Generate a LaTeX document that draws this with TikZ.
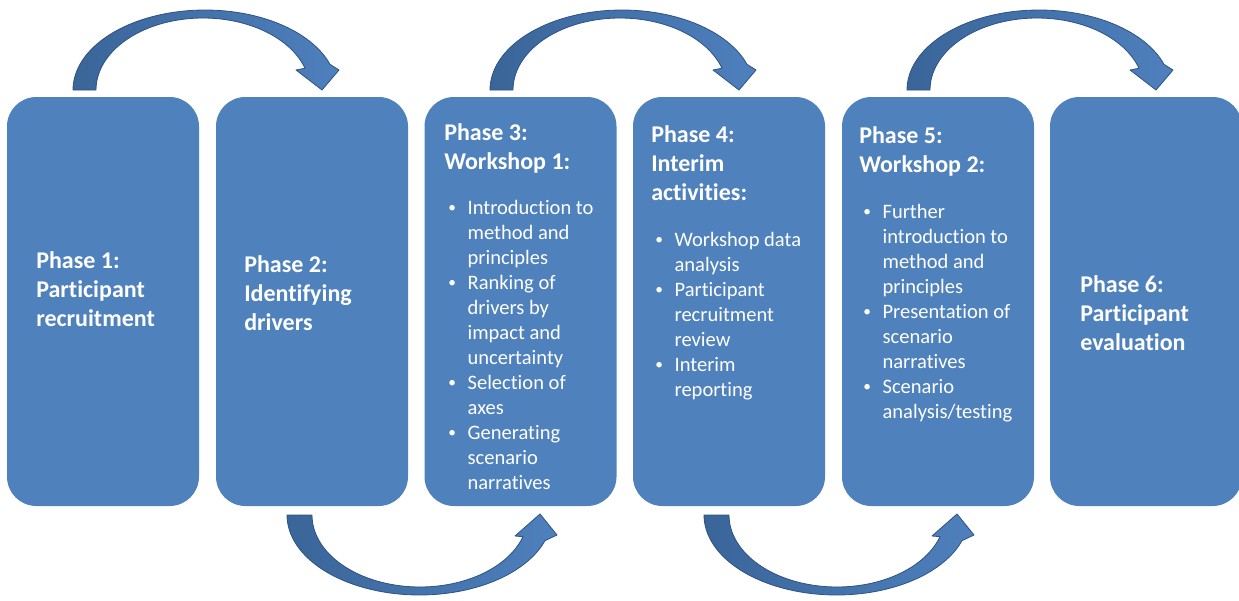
\documentclass[tikz,border=0pt]{standalone}
\usepackage{fontspec}
\setmainfont{Carlito}[Ligatures=NoCommon]
\definecolor{boxblue}{HTML}{4F81BD}
\definecolor{arrdark}{HTML}{3A6599}
\definecolor{arrlight}{HTML}{4E80BD}
\definecolor{arredge}{HTML}{2E5282}
\newcommand\TopArrowShape{%
  \path[arrowshape] plot[domain=180:18.7,samples=60,variable=\t] ({205+132*cos(\t)},{90-80*sin(\t)})
    -- (339,70) -- (322,90) -- (296,70)
    -- plot[domain=17.6:180,samples=60,variable=\t] ({203+107*cos(\t)},{90-72*sin(\t)}) -- cycle;}
\newcommand\BottomArrowShape{%
  \path[arrowshape] plot[domain=180:341.3,samples=60,variable=\t] ({419.5+132.5*cos(\t)},{515-80*sin(\t)})
    -- (557,535) -- (540,514) -- (515,536)
    -- plot[domain=342.5:180,samples=60,variable=\t] ({420+108*cos(\t)},{515-72*sin(\t)}) -- cycle;}
\newcommand\SmallBullet{\raisebox{0.05em}{\scalebox{0.75}{\textbullet}}}
\begin{document}
\begin{tikzpicture}[x=0.75pt,y=-0.75pt,
  box/.style={fill=boxblue, rounded corners=22pt, minimum width=144pt, minimum height=306.75pt, inner sep=0pt, draw=none},
  headtxt/.style={anchor=base west, inner sep=0pt, text=white, font=\fontsize{18pt}{21.75pt}\selectfont\bfseries},
  bodytxt/.style={anchor=base west, inner sep=0pt, text=white, font=\fontsize{15.4pt}{18.75pt}\selectfont},
  arrowshape/.style={left color=arrdark, right color=arrlight, draw=arredge, line width=0.6pt, line join=round}]
\useasboundingbox (0,0) rectangle (1239,600);
\clip (0,0) rectangle (1239,600);
% boxes
\node[box] (p1) at (103,301.5) {};
\node[box] (p2) at (312,301.5) {};
\node[box] (p3) at (520.5,301.5) {};
\node[box] (p4) at (729,301.5) {};
\node[box] (p5) at (938,301.5) {};
\node[box] (p6) at (1146,301.5) {};
% curved arrows
\TopArrowShape
\begin{scope}[shift={(417,0)}]\TopArrowShape\end{scope}
\begin{scope}[shift={(834,0)}]\TopArrowShape\end{scope}
\BottomArrowShape
\begin{scope}[shift={(417,0)}]\BottomArrowShape\end{scope}
% headings
\node[headtxt] (h1) at (36,268) {\begin{tabular}[t]{@{}l@{}}Phase 1:\\Participant\\recruitment\end{tabular}};
\node[headtxt] (h2) at (244,272) {\begin{tabular}[t]{@{}l@{}}Phase 2:\\Identifying\\drivers\end{tabular}};
\node[headtxt] (h3) at (444,140) {\begin{tabular}[t]{@{}l@{}}Phase 3:\\Workshop 1:\end{tabular}};
\node[headtxt] (h4) at (651,142) {\begin{tabular}[t]{@{}l@{}}Phase 4:\\Interim\\activities:\end{tabular}};
\node[headtxt] (h5) at (859,143) {\begin{tabular}[t]{@{}l@{}}Phase 5:\\Workshop 2:\end{tabular}};
\node[headtxt] (h6) at (1080,292) {\begin{tabular}[t]{@{}l@{}}Phase 6:\\Participant\\evaluation\end{tabular}};
% bullet lists
\node[bodytxt] (b3) at (448,214) {\begin{tabular}[t]{@{}p{14.5pt}@{}l@{}}
\SmallBullet & Introduction to\\ & method and\\ & principles\\
\SmallBullet & Ranking of\\ & drivers by\\ & impact and\\ & uncertainty\\
\SmallBullet & Selection of\\ & axes\\
\SmallBullet & Generating\\ & scenario\\ & narratives\end{tabular}};
\node[bodytxt] (b4) at (655,246) {\begin{tabular}[t]{@{}p{14.5pt}@{}l@{}}
\SmallBullet & Workshop data\\ & analysis\\
\SmallBullet & Participant\\ & recruitment\\ & review\\
\SmallBullet & Interim\\ & reporting\end{tabular}};
\node[bodytxt] (b5) at (863,218) {\begin{tabular}[t]{@{}p{14.5pt}@{}l@{}}
\SmallBullet & Further\\ & introduction to\\ & method and\\ & principles\\
\SmallBullet & Presentation of\\ & scenario\\ & narratives\\
\SmallBullet & Scenario\\ & analysis/testing\end{tabular}};
\end{tikzpicture}
\end{document}
